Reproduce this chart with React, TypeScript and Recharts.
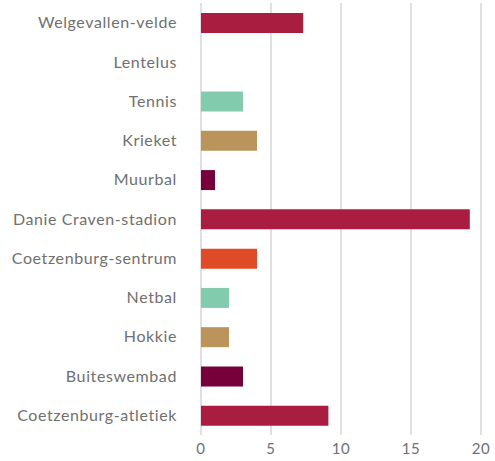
import React from "react";
import { BarChart, Bar, XAxis, YAxis, CartesianGrid, Cell } from "recharts";

const venues = [
  "Welgevallen-velde",
  "Lentelus",
  "Tennis",
  "Krieket",
  "Muurbal",
  "Danie Craven-stadion",
  "Coetzenburg-sentrum",
  "Netbal",
  "Hokkie",
  "Buiteswembad",
  "Coetzenburg-atletiek",
];
const counts = [7.3, 0, 3, 4, 1, 19.2, 4, 2, 2, 3, 9.1];
const barColors = [
  "#a91e40",
  "#a91e40",
  "#83cbad",
  "#bb945b",
  "#77003b",
  "#a91e40",
  "#df4b26",
  "#83cbad",
  "#bb945b",
  "#77003b",
  "#a91e40",
];
const xTicks = [0, 5, 10, 15, 20];

const rows = venues.map((name, i) => ({ name, value: counts[i] }));

export default function App() {
  return (
    <div style={{ position: "absolute", left: 0, top: 0, background: "#fff" }}>
      <BarChart
        width={495}
        height={461}
        data={rows}
        layout="vertical"
        margin={{ top: 3, right: 14, bottom: 0, left: 0 }}
        barSize={20}
      >
        <CartesianGrid horizontal={false} stroke="#d0d0d0" strokeWidth={1.3} />
        <XAxis
          type="number"
          domain={[0, 20]}
          ticks={xTicks}
          axisLine={false}
          tickLine={false}
          height={26}
          tick={{ fill: "#707070", fontSize: 15, fontFamily: "Lato", letterSpacing: 0.6 }}
        />
        <YAxis
          type="category"
          dataKey="name"
          width={201}
          axisLine={false}
          tickLine={false}
          tickMargin={18}
          interval={0}
          tick={{ fill: "#707070", fontSize: 16, fontFamily: "Lato", letterSpacing: 0.6 }}
        />
        <Bar dataKey="value" isAnimationActive={false}>
          {rows.map((r, i) => (
            <Cell key={r.name} fill={barColors[i]} />
          ))}
        </Bar>
      </BarChart>
    </div>
  );
}
